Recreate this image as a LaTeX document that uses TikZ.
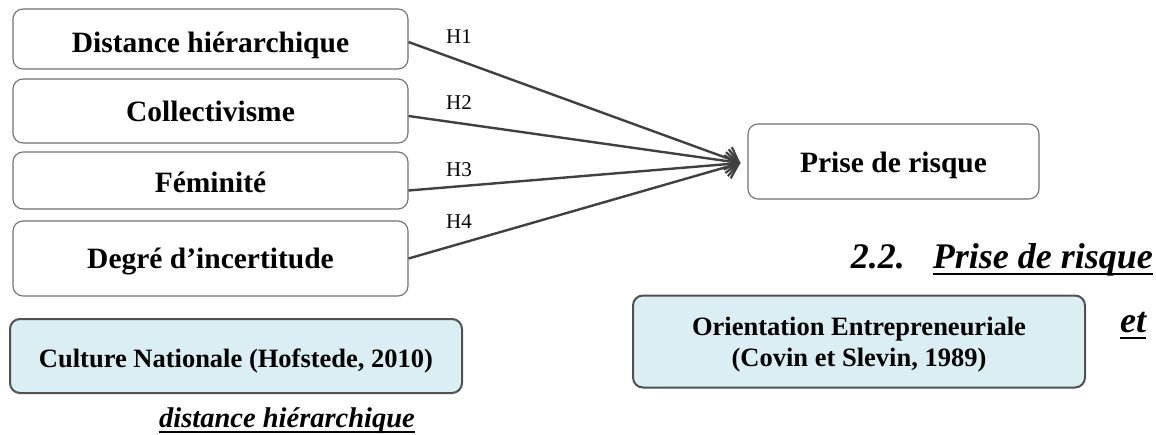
\documentclass[tikz,border=0pt]{standalone}
\usepackage{fontspec}
\setmainfont{Liberation Serif}
\usetikzlibrary{arrows.meta,calc}
\definecolor{boxline}{HTML}{707070}
\definecolor{arrowc}{HTML}{404040}
\definecolor{lightfill}{HTML}{DAEEF3}
\definecolor{darkline}{HTML}{505050}
\begin{document}
\begin{tikzpicture}[x=1pt,y=-1pt,
  factor/.style={draw=boxline, line width=1.1pt, rounded corners=10pt,
    minimum width=395pt, inner sep=0pt, align=center,
    text height=20pt, text depth=0pt,
    font=\fontsize{29.5}{33}\selectfont\bfseries},
  outcome/.style={factor, minimum width=291pt, minimum height=75pt},
  frame/.style={draw=darkline, fill=lightfill, line width=2pt, rounded corners=10pt,
    inner sep=0pt, align=center, minimum width=452pt,
    font=\fontsize{26.5}{31}\selectfont\bfseries},
  hyp/.style={font=\fontsize{21}{24}\selectfont, inner sep=0pt},
  link/.style={draw=arrowc, line width=2.4pt, -{Straight Barb[length=12pt,width=24pt,line width=2.2pt]}},
  heading/.style={font=\fontsize{36}{40}\selectfont\bfseries\itshape, inner sep=0pt},
  heading2/.style={font=\fontsize{28.5}{32}\selectfont\bfseries\itshape, inner sep=0pt},
  uline/.style={draw=black, line width=2pt}
]
\useasboundingbox (0,0) rectangle (1156,434);

\node[factor, minimum height=60pt, text height=27pt] (b1) at (210.5,39) {Distance hiérarchique};
\node[factor, minimum height=64pt] (b2) at (210.5,111) {Collectivisme};
\node[factor, minimum height=57pt, text height=24pt] (b3) at (210.5,180.5) {Féminité};
\node[factor, minimum height=75pt] (b4) at (210.5,258.5) {Degré d’incertitude};

\node[outcome, text height=22pt] (p) at (893.5,161.5) {Prise de risque};
\coordinate (tip) at ($(p.west)+(-7,1.5)$);

\draw[link] ($(b1.east)+(0,3)$) -- (tip);
\draw[link] ($(b2.east)+(0,5)$) -- (tip);
\draw[link] ($(b3.east)+(0,10)$) -- (tip);
\draw[link] ($(b4.east)+(0,0)$) -- (tip);

\node[hyp] (h1) at (459,37) {H1};
\node[hyp] (h2) at (459,103) {H2};
\node[hyp] (h3) at (459,170) {H3};
\node[hyp] (h4) at (459,222) {H4};

\node[frame, minimum height=74pt, text height=23.5pt, text depth=0pt] (cn) at (236,356) {Culture Nationale (Hofstede, 2010)};
\node[frame, minimum height=92pt, text depth=0pt] (oe) at (859,341.5) {Orientation Entrepreneuriale\\(Covin et Slevin, 1989)};

\node[heading, anchor=base east] (t22) at (1153,268) {2.2.\hspace{28pt}\phantom{Prise de risque}};
\node[heading, anchor=base east] (tpr) at (1153,268) {Prise de risque};
\draw[uline] ($(tpr.base west)+(0,6)$) -- ($(tpr.base east)+(0,6)$);

\node[heading, anchor=base] (tet) at (1133,332) {et};
\draw[uline] ($(tet.base west)+(0,6)$) -- ($(tet.base east)+(0,6)$);

\node[heading2, anchor=base] (tdh) at (287,427) {distance hiérarchique};
\draw[uline] ($(tdh.base west)+(0,5)$) -- ($(tdh.base east)+(0,5)$);
\end{tikzpicture}
\end{document}
